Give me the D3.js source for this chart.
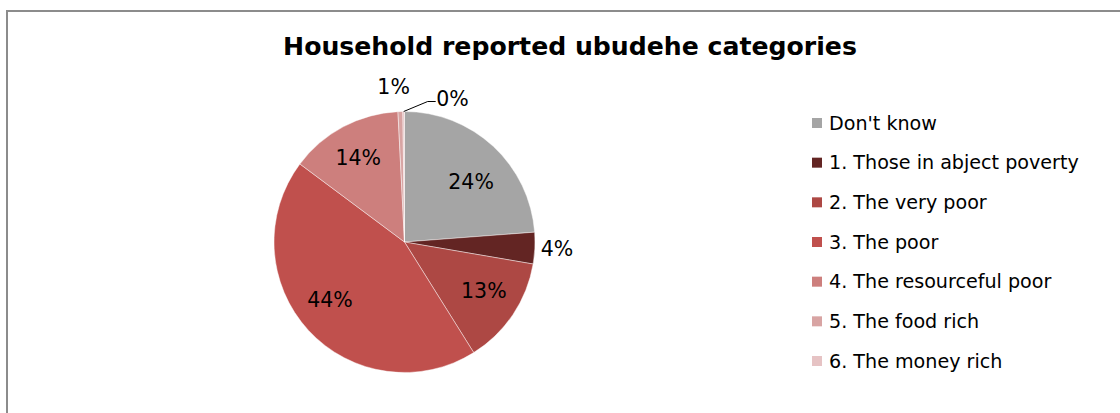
<!DOCTYPE html>
<html>
<head>
<meta charset="utf-8">
<script src="https://cdn.jsdelivr.net/npm/d3@7"></script>
<style>
  html, body { margin: 0; padding: 0; background: #fff; }
  svg { display: block; }
</style>
</head>
<body>
<svg id="chart" width="1120" height="413"></svg>
<script>
// Ubudehe categories reported by households (share of households, %)
const categories = [
  "Don't know",
  "1. Those in abject poverty",
  "2. The very poor",
  "3. The poor",
  "4. The resourceful poor",
  "5. The food rich",
  "6. The money rich"
];
const shares = [23.8, 3.9, 13.4, 44.1, 14.0, 0.6, 0.2];
const sliceColors = ["#A5A5A5", "#632523", "#AD4844", "#C0504D", "#CD7F7D", "#D8A4A3", "#E6C3C4"];

const titleText = "Household reported ubudehe categories";
const fontFamily = "Verdana, 'DejaVu Sans', sans-serif";
const labelSize = 20.5;

const svg = d3.select("#chart");

// outer frame
svg.append("rect")
  .attr("x", 7).attr("y", 11)
  .attr("width", 1130).attr("height", 420)
  .attr("fill", "#fff")
  .attr("stroke", "#8c8c8c")
  .attr("stroke-width", 2);

// title, sized to span its box
const title = svg.append("text")
  .attr("x", 570).attr("y", 55)
  .attr("text-anchor", "middle")
  .attr("font-family", "Tahoma, 'DejaVu Sans', sans-serif")
  .attr("font-weight", "bold")
  .attr("font-size", 21)
  .attr("fill", "#000")
  .text(titleText);
const tw = title.node().getComputedTextLength();
title.attr("font-size", 21 * 574 / tw);

// pie
const cx = 404.5, cy = 242, r = 130.5;
const pie = d3.pie().sort(null).value(d => d.value);
const arcs = pie(categories.map((c, i) => ({ name: c, value: shares[i], color: sliceColors[i] })));
const arc = d3.arc().innerRadius(0).outerRadius(r);

const g = svg.append("g").attr("transform", `translate(${cx},${cy})`);
g.selectAll("path.slice")
  .data(arcs)
  .join("path")
  .attr("class", "slice")
  .attr("d", arc)
  .attr("fill", d => d.data.color)
  .attr("stroke", "#ffffff")
  .attr("stroke-opacity", 0.55)
  .attr("stroke-width", 0.8);

const fmt = v => Math.round(v) + "%";

// label placement per slice: radial factor plus a small nudge
const placement = {
  0: { f: 0.70, dx: 4.5, dy: 7 },
  1: { f: 1.14, dx: 4, dy: 0 },
  2: { f: 0.70, dx: 3.5, dy: -2 },
  3: { f: 0.60, dx: -17, dy: 5 },
  4: { f: 0.77, dx: 1, dy: 4.5 },
  5: { f: 1.19, dx: -6, dy: 0 }
};

function addLabel(x, y, txt, anchor) {
  g.append("text")
    .attr("x", x)
    .attr("y", y)
    .attr("text-anchor", anchor)
    .attr("dominant-baseline", "central")
    .attr("font-family", fontFamily)
    .attr("font-size", labelSize)
    .attr("fill", "#000")
    .text(txt);
}

arcs.forEach((d, i) => {
  const p = placement[i];
  if (!p) return;
  const mid = (d.startAngle + d.endAngle) / 2;
  addLabel(Math.sin(mid) * r * p.f + p.dx, -Math.cos(mid) * r * p.f + p.dy,
           fmt(d.data.value), "middle");
});

// the thinnest slice hangs its label on a leader line
const a6 = arcs[6];
const mid6 = (a6.startAngle + a6.endAngle) / 2;
const p0 = [Math.sin(mid6) * r, -Math.cos(mid6) * r];
const p1 = [p0[0] + 24, p0[1] - 10];
const p2 = [p1[0] + 8, p1[1]];
g.append("path")
  .attr("d", d3.line()([p0, p1, p2]))
  .attr("fill", "none")
  .attr("stroke", "#000")
  .attr("stroke-width", 1);
addLabel(p2[0] + 0.5, p2[1] - 3, fmt(a6.data.value), "start");

// legend
const legendY = d3.scalePoint().domain(categories).range([123, 361]);
const legend = svg.append("g");
const items = legend.selectAll("g.item")
  .data(categories)
  .join("g")
  .attr("class", "item")
  .attr("transform", d => `translate(812,${legendY(d)})`);
items.append("rect")
  .attr("x", 0).attr("y", -5)
  .attr("width", 10).attr("height", 10)
  .attr("fill", (d, i) => sliceColors[i]);
const legendTexts = items.append("text")
  .attr("x", 17).attr("y", 0)
  .attr("dominant-baseline", "central")
  .attr("font-family", fontFamily)
  .attr("font-size", 17)
  .attr("fill", "#000")
  .text(d => d);
// scale legend font so the longest entry spans its space
const longest = legendTexts.filter((d, i) => i === 1).node().getComputedTextLength();
legendTexts.attr("font-size", 17 * 250 / longest);
</script>
</body>
</html>
